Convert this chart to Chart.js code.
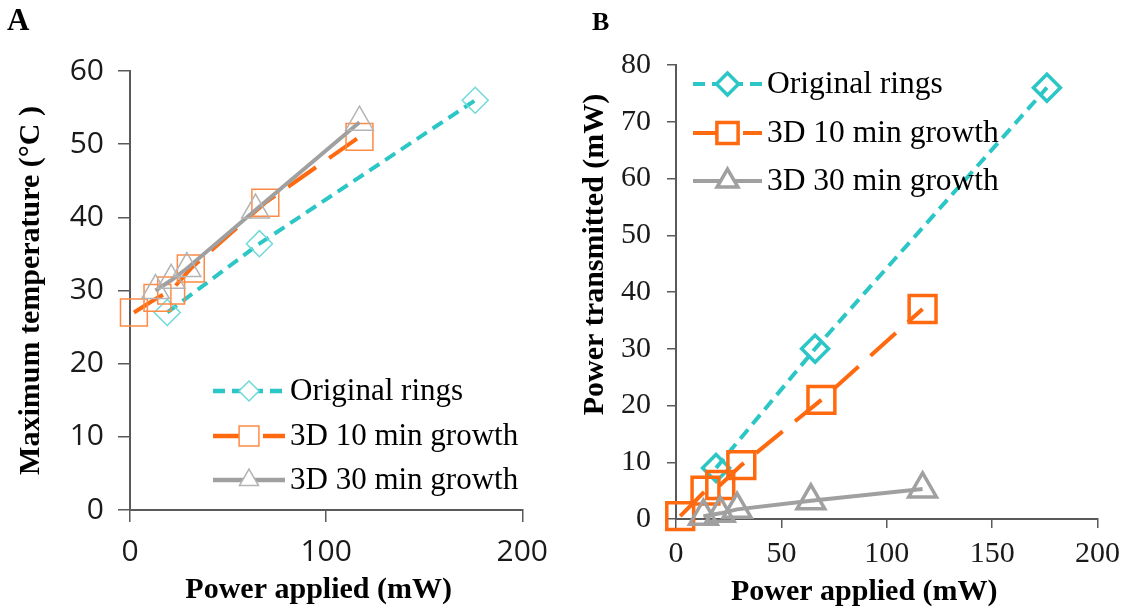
<!DOCTYPE html>
<html lang="en">
<head>
<meta charset="UTF-8" />
<title>Temperature and transmitted power vs applied power</title>
<script src="https://cdn.jsdelivr.net/npm/chart.js"></script>
<style>
  body { margin: 0; background: #fff; }
  .panel { position: absolute; top: 0; }
  #panelA { left: 0; width: 560px; height: 611px; }
  #panelB { left: 560px; width: 568px; height: 611px; }
  .tag { position: absolute; font-family: 'Liberation Serif', serif; font-weight: bold; color: #000; line-height: 1; }
</style>
</head>
<body>
<div class="panel" id="panelA"><canvas id="chartA" width="560" height="611"></canvas></div>
<div class="panel" id="panelB"><canvas id="chartB" width="568" height="611"></canvas></div>
<div class="tag" style="left:7px;top:4px;font-size:31px">A</div>
<div class="tag" style="left:592px;top:9px;font-size:26px">B</div>

<script>
  // values (power in mW, temperature in degC)
  const seriesNames = ['Original rings', '3D 10 min growth', '3D 30 min growth'];

  const originalApplied = [19, 66, 176];
  const originalTemp = [27, 36.4, 56];
  const originalTransmitted = [9, 30, 76];

  const growth10Applied = [2, 14, 21, 31, 69, 117];
  const growth10Temp = [27, 29, 30, 33, 42, 51];
  const growth10Transmitted = [0.5, 5, 6, 9.5, 21, 37];

  const growth30Applied = [13, 21, 29, 64, 117];
  const growth30Temp = [30, 31.4, 33, 41, 53];
  const growth30Transmitted = [0.5, 1, 1.7, 3.2, 5.3];

  const colors = ['#2cc6c7', '#ff6a10', '#a0a0a0'];
  const markerColorsA = ['#6fd9d9', '#ff8a45', '#b4b4b4'];
  const dashes = [[12, 7], [34, 16], []];
  const shapes = ['rectRot', 'rect', 'triangle'];

  const pts = (xs, ys) => xs.map((x, i) => ({ x: x, y: ys[i] }));
  const nb = n => '\u00a0'.repeat(n);

  // legend drawn inside the plot, like the original figure
  const insideLegend = {
    id: 'insideLegend',
    afterDatasetsDraw(chart, args, opts) {
      const ctx = chart.ctx;
      chart.data.datasets.forEach((ds, i) => {
        const y = opts.rows[i];
        ctx.save();
        ctx.strokeStyle = ds.borderColor;
        ctx.lineWidth = opts.lineWidth;
        ctx.setLineDash(ds.borderDash || []);
        ctx.beginPath();
        ctx.moveTo(opts.x0, y);
        ctx.lineTo(opts.x1, y);
        ctx.stroke();
        ctx.setLineDash([]);
        ctx.fillStyle = '#fff';
        ctx.strokeStyle = ds.pointBorderColor;
        ctx.lineWidth = ds.pointBorderWidth;
        Chart.helpers.drawPoint(ctx, {
          pointStyle: ds.pointStyle, radius: opts.radius[i],
          borderWidth: ds.pointBorderWidth, rotation: 0
        }, (opts.x0 + opts.x1) / 2, y);
        ctx.fillStyle = '#000';
        ctx.font = opts.font;
        ctx.textBaseline = 'middle';
        ctx.fillText(ds.label, opts.textX, y + 1);
        ctx.restore();
      });
    }
  };

  function makeSets(yValues, lineW, markW, radii, markColors) {
    const xs = [originalApplied, growth10Applied, growth30Applied];
    return yValues.map((ys, i) => ({
      label: seriesNames[i],
      data: pts(xs[i], ys),
      borderColor: colors[i],
      borderWidth: lineW,
      borderDash: dashes[i],
      pointStyle: shapes[i],
      pointRadius: radii[i],
      pointBorderWidth: markW,
      pointBorderColor: markColors[i],
      pointBackgroundColor: 'rgba(0,0,0,0)',
      tension: 0,
      clip: false,
      order: 2 - i
    }));
  }

  function makeAxes(o) {
    const titleFont = { family: 'Liberation Serif', size: 30, weight: 'bold' };
    return {
      x: {
        type: 'linear', min: 0, max: 200,
        ticks: { stepSize: o.xStep, font: o.tickFont, color: '#1a1a1a', padding: o.xPad, maxRotation: 0 },
        grid: { drawOnChartArea: false, tickLength: o.tickLen, color: '#5a5a5a', lineWidth: 1.5 },
        border: { color: '#5a5a5a', width: 2 },
        title: { display: true, text: o.xTitle, color: '#000', font: titleFont,
                 padding: { top: 0, bottom: o.xTitlePad } },
        afterFit(s) { s.height = o.xHeight; }
      },
      y: {
        type: 'linear', min: 0, max: o.yMax,
        ticks: { stepSize: 10, font: o.tickFont, color: '#1a1a1a', padding: o.yPad },
        grid: { drawOnChartArea: false, tickLength: o.tickLen, color: '#5a5a5a', lineWidth: 1.5 },
        border: { color: '#5a5a5a', width: 2 },
        title: { display: true, text: o.yTitle, color: '#000', font: titleFont,
                 padding: { top: o.yTitlePad, bottom: 0 } },
        afterFit(s) { s.width = o.yWidth; }
      }
    };
  }

  new Chart(document.getElementById('chartA'), {
    type: 'line',
    data: {
      datasets: makeSets([originalTemp, growth10Temp, growth30Temp], 4, 1.5, [13, 19, 16], markerColorsA)
    },
    options: {
      responsive: false,
      animation: false,
      layout: { padding: { top: 71, right: 31, left: 0, bottom: 0 } },
      scales: makeAxes({
        xStep: 100, yMax: 60, tickLen: 12, xPad: 12, yPad: 14,
        tickFont: { family: 'Open Sans', size: 30 },
        xTitle: 'Power applied (mW)' + nb(2),
        xTitlePad: 3, xHeight: 101, yWidth: 130, yTitlePad: 13,
        yTitle: 'Maximum temperature (°C )'
      }),
      plugins: {
        legend: { display: false },
        tooltip: { enabled: false },
        insideLegend: {
          rows: [391, 436, 480], x0: 213, x1: 285, textX: 290, lineWidth: 4.5,
          radius: [10, 14, 11], font: '31px "Liberation Serif"'
        }
      }
    },
    plugins: [insideLegend]
  });

  new Chart(document.getElementById('chartB'), {
    type: 'line',
    data: {
      datasets: makeSets([originalTransmitted, growth10Transmitted, growth30Transmitted], 4, 3.5, [13.5, 19, 16], colors)
    },
    options: {
      responsive: false,
      animation: false,
      layout: { padding: { top: 65, right: 27, left: 0, bottom: 0 } },
      scales: makeAxes({
        xStep: 50, yMax: 80, tickLen: 9, xPad: 8, yPad: 16,
        tickFont: { family: 'Liberation Serif', size: 30 },
        xTitle: 'Power applied (mW)' + nb(6),
        xTitlePad: 1, xHeight: 92, yWidth: 116, yTitlePad: 17,
        yTitle: nb(10) + 'Power transmitted (mW)'
      }),
      plugins: {
        legend: { display: false },
        tooltip: { enabled: false },
        insideLegend: {
          rows: [84, 133, 181], x0: 133, x1: 202, textX: 207, lineWidth: 4,
          radius: [11, 15, 12], font: '31.5px "Liberation Serif"'
        }
      }
    },
    plugins: [insideLegend]
  });
</script>
</body>
</html>
